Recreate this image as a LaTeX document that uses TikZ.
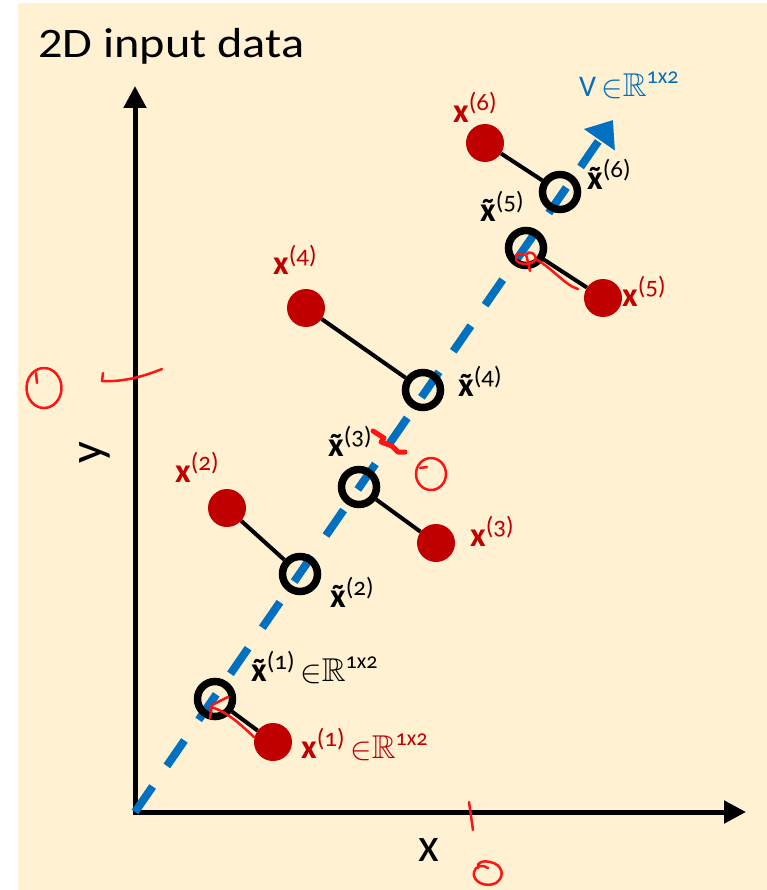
\documentclass[tikz,border=0pt]{standalone}
\usepackage{fontspec}
\usepackage{amssymb}
\setmainfont{Carlito}
\newfontfamily\titlefont[FakeStretch=1.15]{Carlito}
\usetikzlibrary{arrows.meta}
\definecolor{cream}{RGB}{255,241,210}
\definecolor{dotred}{RGB}{192,0,0}
\definecolor{vblue}{RGB}{0,112,192}
\definecolor{ink}{RGB}{255,20,20}
\newcommand{\xb}{\textbf{x}}
\newcommand{\tx}{\ooalign{\textbf{x}\cr\hidewidth\raisebox{-1pt}{\textbf{˜}}\hidewidth\cr}}
\newcommand{\sups}[1]{\raisebox{12pt}{\fontsize{25}{25}\selectfont\addfontfeature{Numbers=OldStyle}(#1)}}
\newcommand{\inR}{\,{\fontsize{33}{33}\selectfont\raisebox{-1pt}{\scalebox{1.3}{$\in$}}$\mathbb{R}$}\raisebox{13pt}{\fontsize{22}{22}\selectfont\addfontfeature{Numbers=OldStyle}1x2}}
\begin{document}
\begin{tikzpicture}[x=1pt,y=-1pt,
  lbl/.style={anchor=base west, inner sep=0pt, font=\fontsize{34}{36}\selectfont},
  reddot/.style={circle, fill=dotred, minimum size=38pt, inner sep=0pt},
  ring/.style={circle, draw=black, line width=7.5pt, minimum size=35pt, inner sep=0pt},
  axis/.style={line width=5pt, -{Triangle[length=22pt,width=22pt]}},
  vline/.style={vblue, line width=8pt, dash pattern=on 31pt off 25pt, -{Triangle[length=24pt,width=36pt]}},
  conn/.style={line width=4pt, black},
  inkline/.style={ink, line width=2.5pt, line cap=round, line join=round}]
\useasboundingbox (0,0) rectangle (767,890);
\fill[white] (0,0) rectangle (767,890);
\fill[cream] (18,3) rectangle (767,890);

% title
\node[anchor=base west, inner sep=0pt, font=\titlefont\fontsize{42}{46}\selectfont] (title) at (38,58) {2D input data};

% axes
\coordinate (O) at (135,812);
\coordinate (ytip) at (135,86);
\coordinate (xtip) at (746,812);
\draw[axis] (135,814.5) -- (ytip);
\draw[axis] (132.5,812) -- (xtip);
\node[font=\fontsize{48}{50}\selectfont, rotate=90, inner sep=0pt] (ylab) at (95,453) {y};
\node[font=\fontsize{48}{50}\selectfont, inner sep=0pt] (xlab) at (429,850) {x};

% principal direction
\coordinate (Vtip) at (613,120);
\draw[vline] (O) -- (Vtip);
\node[anchor=base west, inner sep=0pt, text=vblue, font=\fontsize{30}{32}\selectfont] (Vlab) at (579,97) {V\inR};

% projections and points
\node[ring] (q1) at (215,699) {};
\node[ring] (q2) at (300,574) {};
\node[ring] (q3) at (359,487) {};
\node[ring] (q4) at (423,390) {};
\node[ring] (q5) at (526,248) {};
\node[ring] (q6) at (560,192) {};

\node[reddot] (p1) at (273,742) {};
\node[reddot] (p2) at (227,508) {};
\node[reddot] (p3) at (436,543) {};
\node[reddot] (p4) at (306,308) {};
\node[reddot] (p5) at (603,298) {};
\node[reddot] (p6) at (485,143) {};

\foreach \i in {1,...,6} \draw[conn] (p\i) -- (q\i);

% labels
\node[lbl, text=dotred] (lp6) at (453,123) {\xb\sups{6}};
\node[lbl] (lq6) at (587,190) {\tx\sups{6}};
\node[lbl] (lq5) at (480,222) {\tx\sups{5}};
\node[lbl, text=dotred] (lp5) at (622,306) {\xb\sups{5}};
\node[lbl, text=dotred] (lp4) at (273,275) {\xb\sups{4}};
\node[lbl] (lq4) at (458,396) {\tx\sups{4}};
\node[lbl] (lq3) at (328,456) {\tx\sups{3}};
\node[lbl, text=dotred] (lp3) at (470,546) {\xb\sups{3}};
\node[lbl, text=dotred] (lp2) at (175,482) {\xb\sups{2}};
\node[lbl] (lq2) at (330,607) {\tx\sups{2}};
\node[lbl] (lq1) at (251,681) {\tx\sups{1}\inR};
\node[lbl, text=dotred] (lp1) at (301,758) {\xb\sups{1}\inR};

% red ink annotations
\draw[inkline] (44,388) ellipse [x radius=17.5pt, y radius=20pt];
\draw[inkline] (36,373) -- (37,383);
\draw[inkline] (103,373) -- (102,381) .. controls (120,382) and (140,378) .. (162,369);
\draw[inkline] (469,802) -- (473,830);
\draw[inkline] (478,868) .. controls (476,862) and (484,860) .. (490,862) .. controls (502,864) and (506,876) .. (496,883) .. controls (486,888) and (472,882) .. (474,872) .. controls (475,866) and (483,864) .. (488,868);
\draw[inkline] (431,474) ellipse [x radius=15pt, y radius=16pt];
\draw[inkline] (420,468) -- (427,467);
\draw[ink, line width=5pt, line cap=round, line join=round] (373,431) -- (384,438) -- (381,442) -- (392,446) -- (398,452) -- (405,452);
\draw[inkline] (254,737) .. controls (242,726) and (228,712) .. (211,707);
\draw[inkline] (228,697) -- (212,705) -- (210,718);
\draw[inkline] (578,289) .. controls (566,286) and (552,268) .. (537,260);
\draw[inkline] (524,255) .. controls (516,250) and (512,260) .. (520,263) .. controls (528,266) and (538,262) .. (535,256) .. controls (532,250) and (524,252) .. (527,258) -- (530,271);
\end{tikzpicture}
\end{document}
